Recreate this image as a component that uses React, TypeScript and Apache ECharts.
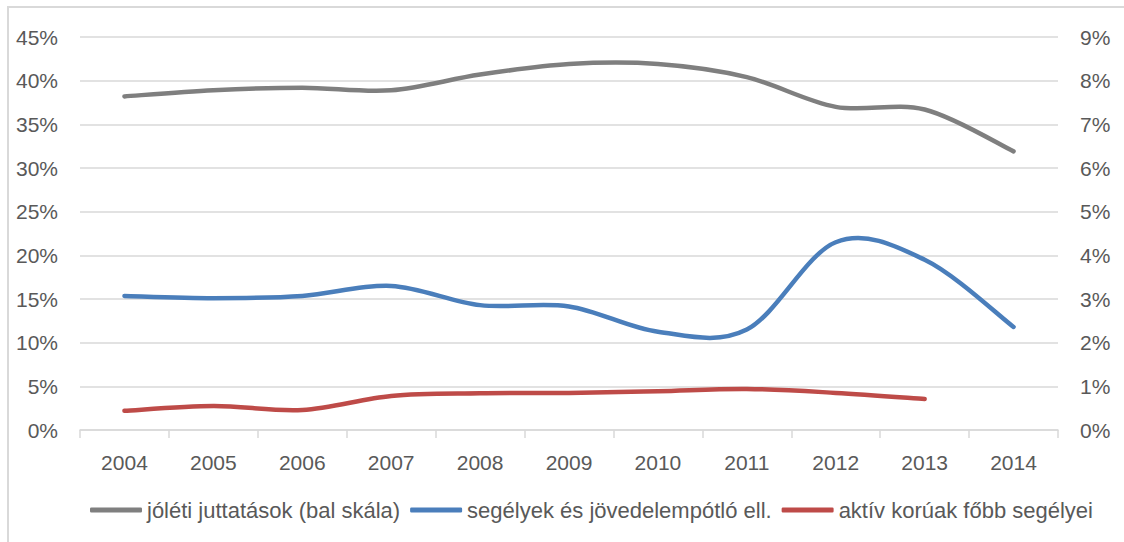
import React, { useEffect, useRef } from "react";
import * as echarts from "echarts";

const years = ["2004", "2005", "2006", "2007", "2008", "2009", "2010", "2011", "2012", "2013", "2014"];
const joletiJuttatasok = [38.2, 38.9, 39.2, 38.9, 40.7, 41.9, 41.9, 40.4, 37.0, 36.7, 31.9];
const segelyek = [3.07, 3.02, 3.07, 3.3, 2.86, 2.83, 2.25, 2.3, 4.3, 3.9, 2.36];
const aktivKoruak = [0.44, 0.55, 0.46, 0.78, 0.84, 0.85, 0.89, 0.94, 0.85, 0.71, null];
const seriesNames = [
  "jóléti juttatások (bal skála)",
  "segélyek és jövedelempótló ell.",
  "aktív korúak főbb segélyei",
];
const colors = ["#7f7f7f", "#4a7ebb", "#be4b48"];

const FONT = "'Liberation Sans', Arial, sans-serif";
const TEXT_COLOR = "#595959";

function smoothPath(pts: number[][]): string {
  if (pts.length === 0) return "";
  let d = `M${pts[0][0]},${pts[0][1]}`;
  for (let i = 0; i < pts.length - 1; i++) {
    const p0 = pts[Math.max(0, i - 1)];
    const p1 = pts[i];
    const p2 = pts[i + 1];
    const p3 = pts[Math.min(pts.length - 1, i + 2)];
    const c1x = p1[0] + (p2[0] - p0[0]) / 6;
    const c1y = p1[1] + (p2[1] - p0[1]) / 6;
    const c2x = p2[0] - (p3[0] - p1[0]) / 6;
    const c2y = p2[1] - (p3[1] - p1[1]) / 6;
    d += ` C${c1x},${c1y} ${c2x},${c2y} ${p2[0]},${p2[1]}`;
  }
  return d;
}

export default function App() {
  const ref = useRef<HTMLDivElement>(null);
  useEffect(() => {
    document.body.style.margin = "0";
    const chart = echarts.init(ref.current!, null, { renderer: "svg" });
    const curveSeries = (i: number, values: (number | null)[], yAxisIndex: number) => {
      const data = values.map((v, k) => [k, v]).filter((p) => p[1] !== null);
      return {
        name: seriesNames[i],
        type: "custom",
        yAxisIndex,
        data,
        encode: { x: 0, y: 1 },
        clip: false,
        itemStyle: { color: colors[i] },
        renderItem: (params: any, api: any) => {
          if (params.dataIndex !== 0) return null;
          const pts = data.map((p) => api.coord([p[0], p[1]]));
          return {
            type: "path",
            shape: { pathData: smoothPath(pts) },
            style: {
              fill: "none",
              stroke: colors[i],
              lineWidth: 4.5,
              lineCap: "round",
              lineJoin: "round",
            },
          };
        },
      };
    };
    chart.setOption({
      animation: false,
      backgroundColor: "#ffffff",
      textStyle: { fontFamily: FONT },
      grid: { left: 80, right: 66, top: 37, bottom: 112 },
      graphic: [
        {
          type: "rect",
          shape: { x: 8, y: 7, width: 1200, height: 700 },
          style: { fill: "none", stroke: "#d9d9d9", lineWidth: 2 },
          silent: true,
        },
      ],
      legend: {
        bottom: 16,
        left: 85,
        itemWidth: 52,
        itemHeight: 5,
        itemGap: 10,
        icon: "roundRect",
        textStyle: { fontFamily: FONT, fontSize: 22, color: TEXT_COLOR },
        data: seriesNames,
      },
      xAxis: {
        type: "category",
        data: years,
        boundaryGap: true,
        axisLine: { lineStyle: { color: "#d9d9d9", width: 1.5 } },
        axisTick: { show: true, length: 8, lineStyle: { color: "#d9d9d9", width: 1.5 } },
        axisLabel: { fontFamily: FONT, fontSize: 21, color: TEXT_COLOR, margin: 22 },
        splitLine: { show: false },
      },
      yAxis: [
        {
          type: "value",
          min: 0,
          max: 45,
          interval: 5,
          position: "left",
          axisLine: { show: false },
          axisTick: { show: false },
          axisLabel: { fontFamily: FONT, fontSize: 21, color: TEXT_COLOR, margin: 22, formatter: "{value}%" },
          splitLine: { lineStyle: { color: "#d9d9d9", width: 1.5 } },
        },
        {
          type: "value",
          min: 0,
          max: 9,
          interval: 1,
          position: "right",
          axisLine: { show: false },
          axisTick: { show: false },
          axisLabel: { fontFamily: FONT, fontSize: 21, color: TEXT_COLOR, margin: 22, formatter: "{value}%" },
          splitLine: { show: false },
        },
      ],
      series: [
        curveSeries(0, joletiJuttatasok, 0),
        curveSeries(1, segelyek, 1),
        curveSeries(2, aktivKoruak, 1),
      ],
    });
    return () => chart.dispose();
  }, []);
  return <div ref={ref} style={{ width: 1124, height: 542 }} />;
}
